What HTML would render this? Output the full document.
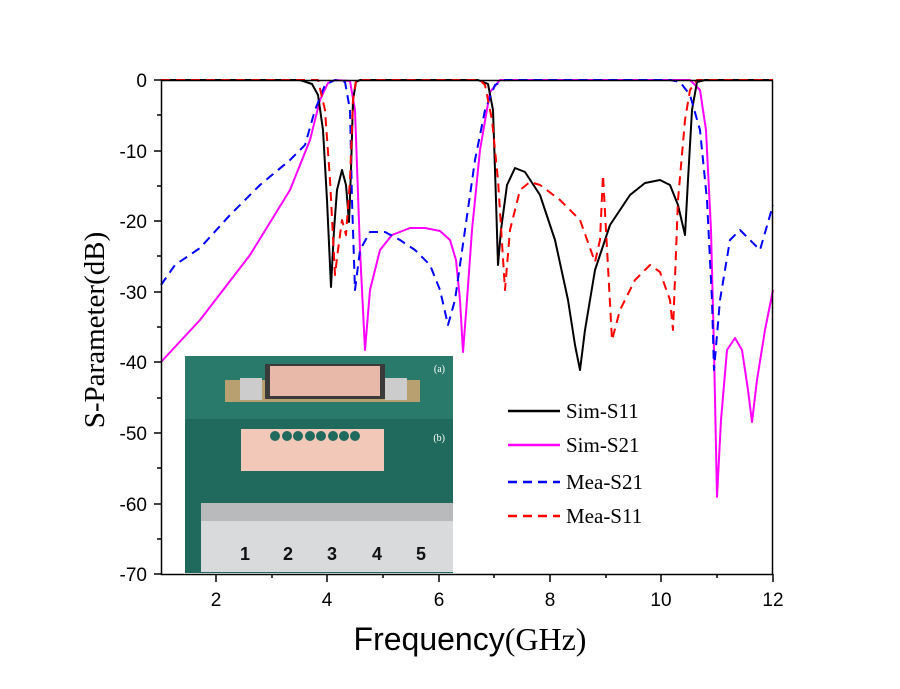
<!DOCTYPE html>
<html><head><style>body{margin:0;background:#fff}svg{display:block}</style></head><body>
<svg width="900" height="689" xmlns="http://www.w3.org/2000/svg">
<rect width="900" height="689" fill="#fff"/>
<g fill="none" stroke-linejoin="round">
<polyline stroke="#ff00ff" stroke-width="2" points="161,362 200,320 250,255 290,190 310,140 320,100 328,83 335,80 350,81 355,110 360,250 365,350 370,290 380,250 392,235 410,228 425,228 440,231 450,240 456,260 460,300 463,352 467,300 472,230 480,150 490,92 500,80 690,80 700,90 706,130 711,230 714,350 717,497 721,420 727,350 735,338 742,350 748,390 752,422 757,380 765,330 773,290"/>
<polyline stroke="#000" stroke-width="2" points="161,80 300,80 312,84 318,95 323,130 327,200 331,287 334,230 337,190 342,170 346,185 349,222 351,170 353,100 356,82 360,80 478,80 488,84 493,110 496,200 498,265 501,230 507,185 515,168 525,172 540,195 555,240 568,300 575,345 580,370 585,330 595,270 610,225 630,195 645,183 660,180 670,185 678,205 685,235 688,180 692,110 697,82 705,80 773,80"/>
<polyline stroke="#0000ff" stroke-width="2" stroke-dasharray="9,6" points="161,285 175,265 200,248 230,215 260,185 290,160 305,145 315,110 325,85 335,80 345,82 350,110 352,200 355,290 360,250 370,232 385,232 400,240 415,250 430,265 440,290 448,325 455,300 465,230 475,160 485,110 495,85 505,80 670,80 680,82 690,95 700,130 707,200 712,300 714,370 720,300 730,240 740,230 750,240 760,250 773,205"/>
<polyline stroke="#ff0000" stroke-width="2" stroke-dasharray="9,6" points="161,80 318,80 325,110 330,180 335,275 338,250 342,220 346,235 350,180 353,100 356,80 480,80 485,85 492,120 498,180 505,290 510,230 520,190 530,182 540,185 560,200 580,220 595,262 600,240 603,175 606,230 612,340 620,310 635,280 650,265 660,272 670,300 673,330 678,200 685,120 690,90 697,80 773,80"/>
</g>
<!-- inset -->
<rect x="185" y="356" width="268" height="217" fill="#1f6a5c"/>
<rect x="185" y="356" width="268" height="63" fill="#2a7a6c"/>
<rect x="225" y="380" width="195" height="22" fill="#b8a070"/>
<rect x="265" y="364" width="120" height="35" fill="#3a3a3a"/>
<rect x="270" y="366" width="110" height="30" fill="#e8b8a8"/>
<rect x="240" y="378" width="22" height="22" fill="#ccc"/>
<rect x="385" y="378" width="22" height="22" fill="#ccc"/>
<text x="445" y="372" font-family="Liberation Serif,serif" font-size="10" fill="#fff" text-anchor="end">(a)</text>
<rect x="241" y="429" width="143" height="42" fill="#f2c8b8"/>
<g fill="#1f6a5c"><circle cx="275" cy="436" r="5"/><circle cx="287" cy="436" r="5"/><circle cx="298" cy="436" r="5"/><circle cx="310" cy="436" r="5"/><circle cx="321" cy="436" r="5"/><circle cx="333" cy="436" r="5"/><circle cx="344" cy="436" r="5"/><circle cx="355" cy="436" r="5"/></g>
<text x="445" y="441" font-family="Liberation Serif,serif" font-size="10" fill="#fff" text-anchor="end">(b)</text>
<rect x="201" y="503" width="252" height="69" fill="#d8dadc"/>
<rect x="201" y="503" width="252" height="18" fill="#b8babc"/>
<g font-family="Liberation Sans,sans-serif" font-size="18" font-weight="bold" fill="#111"><text x="240" y="560">1</text><text x="283" y="560">2</text><text x="327" y="560">3</text><text x="372" y="560">4</text><text x="416" y="560">5</text></g>
<!-- axes -->
<rect x="161.5" y="80.5" width="611" height="494" fill="none" stroke="#000" stroke-width="1.5"/>
<g stroke="#000" stroke-width="1.5">
<line x1="154" y1="80" x2="161" y2="80"/><line x1="154" y1="151" x2="161" y2="151"/><line x1="154" y1="221" x2="161" y2="221"/><line x1="154" y1="292" x2="161" y2="292"/><line x1="154" y1="362" x2="161" y2="362"/><line x1="154" y1="433" x2="161" y2="433"/><line x1="154" y1="504" x2="161" y2="504"/><line x1="154" y1="574" x2="161" y2="574"/>
<line x1="157" y1="115" x2="161" y2="115"/><line x1="157" y1="186" x2="161" y2="186"/><line x1="157" y1="256" x2="161" y2="256"/><line x1="157" y1="327" x2="161" y2="327"/><line x1="157" y1="398" x2="161" y2="398"/><line x1="157" y1="468" x2="161" y2="468"/><line x1="157" y1="539" x2="161" y2="539"/>
<line x1="216" y1="574" x2="216" y2="582"/><line x1="327" y1="574" x2="327" y2="582"/><line x1="439" y1="574" x2="439" y2="582"/><line x1="550" y1="574" x2="550" y2="582"/><line x1="661" y1="574" x2="661" y2="582"/><line x1="773" y1="574" x2="773" y2="582"/>
<line x1="272" y1="574" x2="272" y2="578"/><line x1="383" y1="574" x2="383" y2="578"/><line x1="494" y1="574" x2="494" y2="578"/><line x1="606" y1="574" x2="606" y2="578"/><line x1="717" y1="574" x2="717" y2="578"/>
</g>
<g font-family="Liberation Sans,sans-serif" font-size="19" fill="#000" text-anchor="end">
<text x="147" y="87">0</text><text x="147" y="158">-10</text><text x="147" y="228">-20</text><text x="147" y="299">-30</text><text x="147" y="369">-40</text><text x="147" y="440">-50</text><text x="147" y="511">-60</text><text x="147" y="581">-70</text>
</g>
<g font-family="Liberation Sans,sans-serif" font-size="19" fill="#000" text-anchor="middle">
<text x="216" y="606">2</text><text x="327" y="606">4</text><text x="439" y="606">6</text><text x="550" y="606">8</text><text x="661" y="606">10</text><text x="773" y="606">12</text>
</g>
<text x="470" y="650" text-anchor="middle" font-size="32"><tspan font-family="Liberation Sans,sans-serif">Frequency</tspan><tspan font-family="Liberation Serif,serif">(GHz)</tspan></text>
<text transform="translate(104,330) rotate(-90)" text-anchor="middle" font-family="Liberation Serif,serif" font-size="29">S-Parameter(dB)</text>
<!-- legend -->
<g stroke-width="2.5" fill="none">
<line x1="508" y1="411" x2="560" y2="411" stroke="#000"/>
<line x1="508" y1="445" x2="560" y2="445" stroke="#ff00ff"/>
<line x1="508" y1="482" x2="560" y2="482" stroke="#0000ff" stroke-dasharray="9,6"/>
<line x1="508" y1="516" x2="560" y2="516" stroke="#ff0000" stroke-dasharray="9,6"/>
</g>
<g font-family="Liberation Serif,serif" font-size="21" fill="#000">
<text x="566" y="418">Sim-S11</text><text x="566" y="452">Sim-S21</text><text x="566" y="489">Mea-S21</text><text x="566" y="523">Mea-S11</text>
</g>
</svg>
</body></html>
